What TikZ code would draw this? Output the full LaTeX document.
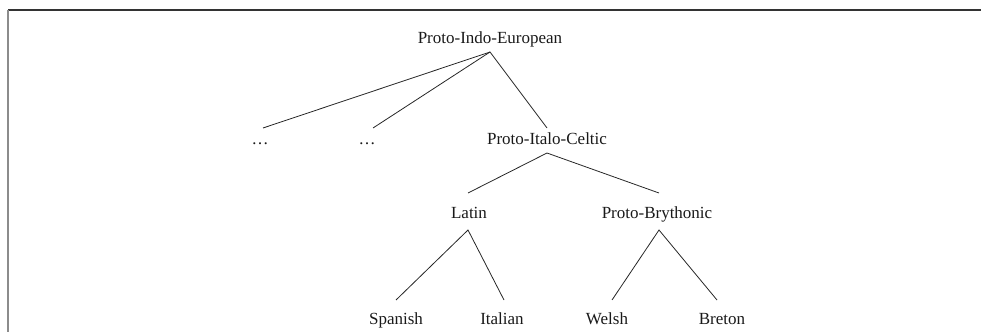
\documentclass[tikz,border=0pt]{standalone}
\usepackage{fontspec}
\setmainfont{Liberation Serif}
\begin{document}
\begin{tikzpicture}[x=1pt,y=-1pt,
  lbl/.style={anchor=base,inner sep=0pt,font=\fontsize{17}{20}\selectfont,text=black!90},
  branch/.style={line width=0.8pt,draw=black!85}]
\useasboundingbox (0,0) rectangle (981,332);
\draw[black!80,line width=2pt] (8,10) -- (981,10);
\draw[black!45,line width=2pt] (8,10) -- (8,332);

\node[lbl] (pie) at (490,43) {Proto-Indo-European};
\node[lbl] (d1) at (260,144) {…};
\node[lbl] (d2) at (367,144) {…};
\node[lbl] (pic) at (547,144) {Proto-Italo-Celtic};
\node[lbl] (lat) at (469,218) {Latin};
\node[lbl] (pb) at (657,218) {Proto-Brythonic};
\node[lbl] (spa) at (396,324) {Spanish};
\node[lbl] (ita) at (502,324) {Italian};
\node[lbl] (wel) at (607,324) {Welsh};
\node[lbl] (bre) at (722,324) {Breton};

\draw[branch] ([xshift=3pt,yshift=16pt]d1.base) -- ([yshift=-9pt]pie.base) -- ([yshift=16pt]pic.base);
\draw[branch] ([xshift=6pt,yshift=16pt]d2.base) -- ([yshift=-9pt]pie.base);
\draw[branch] ([xshift=-1pt,yshift=25pt]lat.base) -- ([yshift=-9pt]pic.base) -- ([xshift=2pt,yshift=25pt]pb.base);
\draw[branch] ([yshift=24pt]spa.base) -- ([xshift=-1pt,yshift=-12pt]lat.base) -- ([xshift=2pt,yshift=24pt]ita.base);
\draw[branch] ([xshift=5pt,yshift=24pt]wel.base) -- ([xshift=2pt,yshift=-12pt]pb.base) -- ([xshift=-5pt,yshift=24pt]bre.base);
\end{tikzpicture}
\end{document}
